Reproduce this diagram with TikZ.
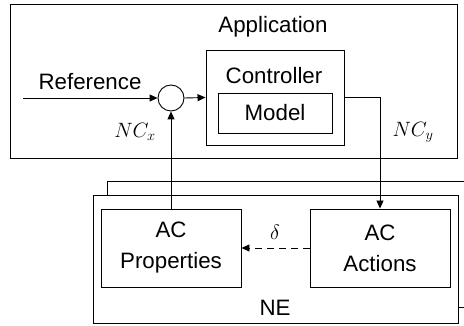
\documentclass[tikz,border=0pt]{standalone}
\usepackage{fontspec}
\setmainfont{Liberation Sans}
\usetikzlibrary{arrows.meta}
\tikzset{
  box/.style={draw, line width=0.9pt, fill=white, inner sep=0pt},
  txt/.style={font=\fontsize{22.3}{26}\selectfont, align=center, inner sep=0pt},
  arr/.style={line width=0.9pt, -{Triangle[length=8pt,width=7pt]}},
  ln/.style={line width=0.9pt}
}
\begin{document}
\begin{tikzpicture}[x=1pt,y=-1pt]
\clip (0,0) rectangle (464,326);
\fill[white] (0,0) rectangle (464,326);
% Application
\node[box, minimum width=447pt, minimum height=154pt] (app) at (233.5,81) {};
\node[txt] (applbl) at (273,27) {Application};
\node[box, minimum width=138pt, minimum height=95pt] (ctrl) at (275,97.5) {};
\node[txt] (ctrllbl) at (274,76) {Controller};
\node[box, minimum width=114pt, minimum height=40pt, txt, draw, line width=0.9pt] (model) at (275,113) {Model};
\node[draw, circle, line width=0.9pt, minimum size=26pt, inner sep=0pt, fill=white] (sum) at (171,98) {};
\coordinate (ref) at (23,98);
\node[txt] (reflbl) at (90,82) {Reference};
\node[txt] (ncx) at (135,132) {$NC_x$};
\node[txt] (ncy) at (413,132) {$NC_y$};
% NE
\node[box, minimum width=380pt, minimum height=126pt] (neback) at (297,244) {};
\node[box, minimum width=365pt, minimum height=128pt] (ne) at (275.5,259) {};
\node[txt] (nelbl) at (275,308) {NE};
\node[box, txt, minimum width=140pt, minimum height=78pt] (props) at (171,248) {AC\\[5pt]Properties};
\node[box, txt, minimum width=140pt, minimum height=78pt] (acts) at (380,248) {AC\\[5pt]Actions};
\node[txt] (delta) at (275,232) {$\delta$};
% connectors
\draw[arr] (ref) -- (sum.west);
\draw[arr] (sum.east) -- (ctrl.west);
\draw[arr] (ctrl.east) -| (acts.north);
\draw[arr] (props.north) -- (sum.south);
\draw[arr, dashed, dash pattern=on 7pt off 5pt] (acts.west) -- (props.east);
\end{tikzpicture}
\end{document}
